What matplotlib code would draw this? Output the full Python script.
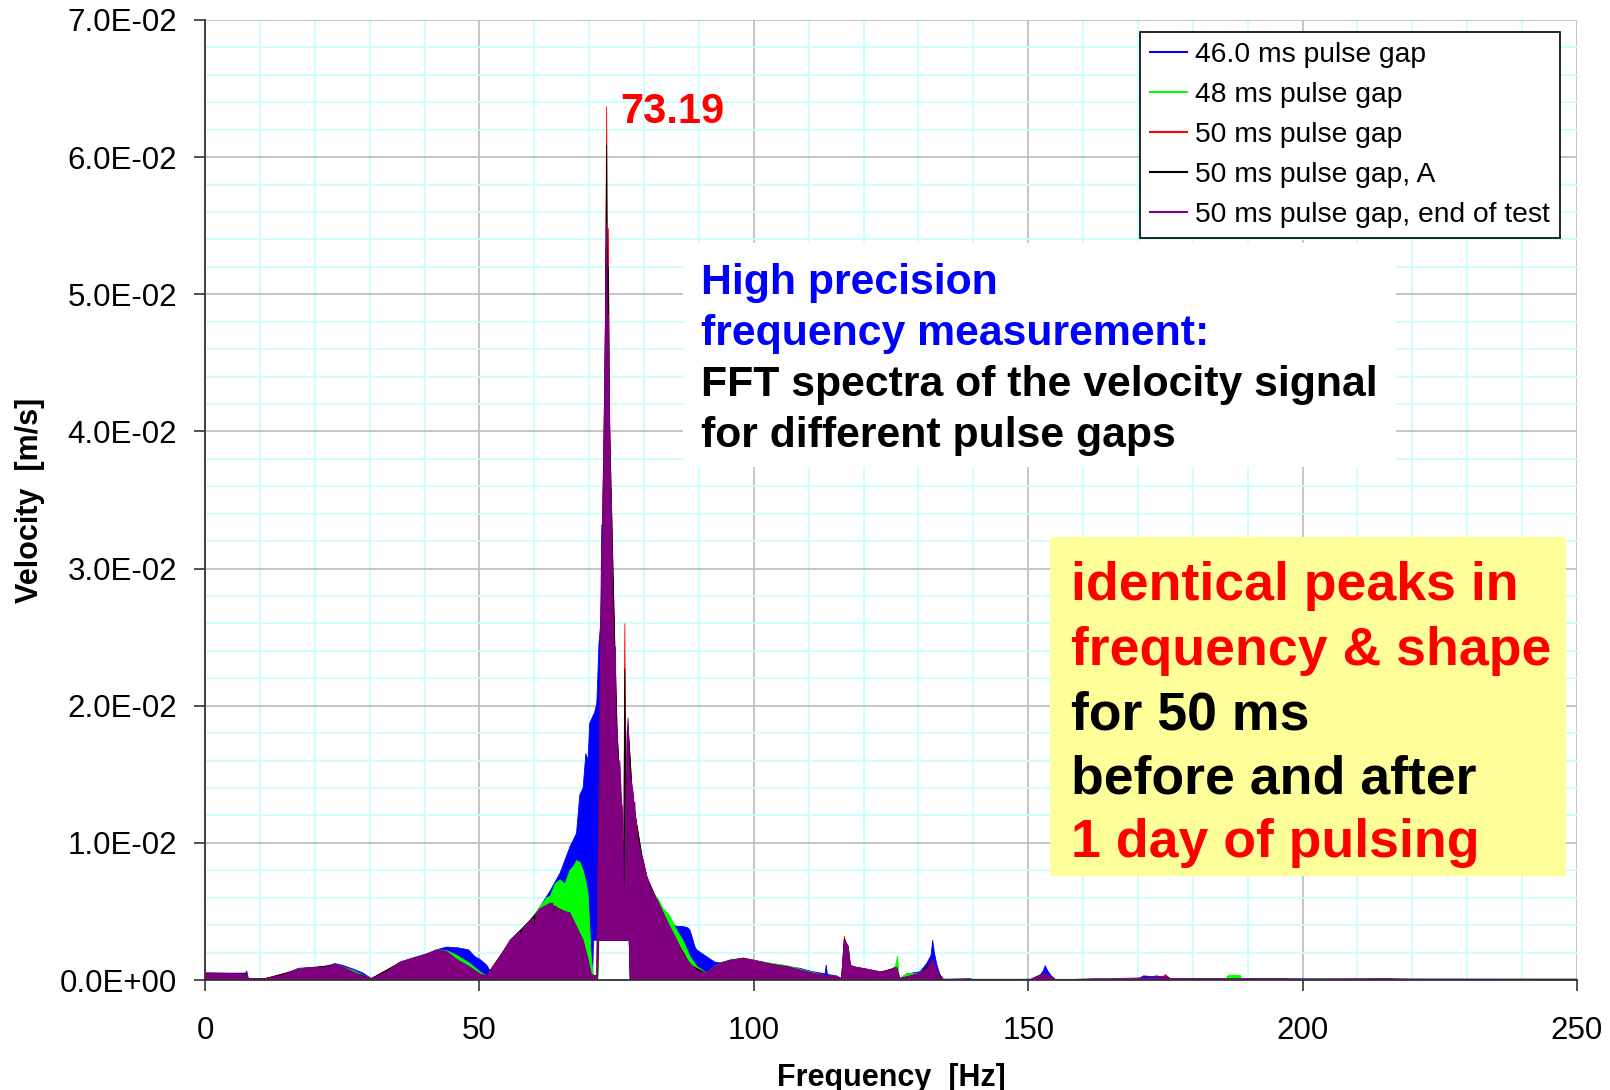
import numpy as np
import matplotlib.pyplot as plt
from matplotlib.lines import Line2D
from matplotlib.patches import Rectangle
from matplotlib.ticker import MultipleLocator, FuncFormatter

plt.rcParams['font.family'] = ['Liberation Sans', 'DejaVu Sans']

# FFT spectra of the velocity signal.
# Each trace: (frequency [Hz], upper edge of the trace [1e-3 m/s])
gap46 = [(0, 0.5), (7.4, 0.5), (7.6, 0.65), (7.9, 0.1), (11, 0.1), (14, 0.35), (17, 0.85),
         (22.2, 1.0), (23.7, 1.2), (25.2, 1.05), (27, 0.8), (28.8, 0.5), (30.3, 0.1), (33.1, 0.6),
         (35.5, 1.3), (37.9, 1.6), (40.4, 1.9), (42.2, 2.2), (44, 2.4), (46, 2.35), (48, 2.2),
         (49.2, 1.7), (50.1, 1.5), (51.3, 1.1), (52.2, 0.5), (53.8, 1.7), (55.6, 2.9), (57.4, 3.6),
         (59.2, 4.3), (61, 5.3), (62.9, 6.5), (64.7, 7.8), (66.5, 9.7), (67.7, 10.7), (68.3, 13.5),
         (68.9, 14.0), (69.4, 16.5), (69.8, 16.0), (70.1, 18.7), (70.4, 19.0), (71.0, 19.5),
         (71.4, 20.2), (71.8, 24.6), (72.1, 26), (72.3, 33.2), (72.5, 30), (73.0, 42), (73.5, 42),
         (74.1, 31), (74.7, 22), (75.1, 17), (76.0, 12), (76.3, 5), (76.7, 12), (77.1, 17),
         (77.8, 13.5), (78.4, 12), (79.0, 9.8), (79.6, 9.0), (80.5, 7.5), (81.7, 6.2), (82.6, 5.6),
         (83.5, 5.0), (84.7, 4.2), (85.5, 4.0), (86, 3.9), (87.1, 3.9), (88, 3.8), (88.4, 3.6),
         (89.3, 2.4), (89.6, 2.2), (91.4, 1.7), (92.9, 1.3), (93.8, 1.25), (95.7, 1.45), (98.1, 1.55),
         (99.9, 1.45), (101.7, 1.3), (103.6, 1.15), (106, 1.0), (108.4, 0.85), (110.8, 0.6),
         (113.0, 0.45), (113.2, 1.1), (113.4, 0.4), (115.1, 0.3), (116, 0.1), (116.5, 2.5),
         (117.2, 2.2), (117.6, 1.0), (120.6, 0.78), (123, 0.6), (124.8, 0.65), (126, 0.8),
         (126.6, 0.1), (127.9, 0.45), (130.3, 0.6), (131.5, 1.2), (132.3, 1.8), (132.6, 2.9),
         (132.9, 2.0), (133.3, 1.2), (133.9, 0.4), (134.5, 0.05), (150.5, 0.05), (152.3, 0.4),
         (152.8, 0.7), (153.1, 1.05), (153.5, 0.7), (154.2, 0.3), (155, 0.0), (170, 0.05),
         (171, 0.3), (172.5, 0.25), (173.5, 0.3), (175, 0.1), (250, 0.05)]

gap48 = [(0, 0.5), (7.5, 0.45), (7.9, 0.1), (11, 0.1), (14, 0.35), (17, 0.8), (22.2, 0.95),
         (23.7, 1.15), (25.2, 0.95), (27, 0.7), (28.8, 0.35), (30.3, 0.1), (33.1, 0.6), (35.5, 1.3),
         (37.9, 1.6), (40.4, 1.9), (42.2, 2.2), (44, 2.15), (45.9, 1.8), (48.3, 1.2), (50.1, 0.6),
         (51.3, 0.3), (53.8, 1.7), (55.6, 2.9), (57.4, 3.6), (59.2, 4.3), (61, 5.3), (62.3, 6.0),
         (62.9, 6.1), (63.8, 7.0), (64.7, 7.3), (65.6, 7.0), (66.5, 8.0), (67.2, 8.3), (67.7, 8.7),
         (68.3, 8.6), (68.9, 8.0), (69.4, 7.2), (69.8, 6.3), (70.1, 4.0), (70.4, 1.5), (70.8, 0.3),
         (71.6, 0.3), (71.8, 5), (72.1, 14), (72.5, 30), (73.0, 44), (73.5, 44), (74.1, 32),
         (74.7, 23), (75.1, 17), (76.0, 12), (76.3, 5), (76.7, 12), (77.1, 17), (77.8, 13.5),
         (78.4, 12), (79.0, 9.8), (79.6, 9.0), (80.5, 7.5), (81.7, 6.3), (82.6, 5.9), (83.5, 5.2),
         (84.7, 4.7), (86, 3.6), (87.1, 2.9), (88.4, 1.7), (89.6, 1.0), (91.4, 0.5), (92.9, 1.0),
         (93.8, 1.2), (95.7, 1.45), (98.1, 1.6), (99.9, 1.45), (101.7, 1.3), (103.6, 1.2),
         (106, 1.05), (108.4, 0.8), (110.8, 0.55), (113.3, 0.3), (115.1, 0.25), (116, 0.1),
         (116.5, 2.6), (117.2, 2.3), (117.6, 1.0), (120.6, 0.8), (123, 0.6), (124.8, 0.73),
         (125.8, 1.0), (126.2, 1.75), (126.5, 0.1), (127.9, 0.45), (130.3, 0.5), (132.6, 1.2),
         (133.9, 0.2), (134.5, 0.05), (186, 0.05), (186.5, 0.35), (188.6, 0.35), (189, 0.05),
         (250, 0.05)]

gap50 = [(0, 0.5), (7.5, 0.45), (7.9, 0.1), (11, 0.1), (17, 0.75), (23.7, 1.1), (27, 0.55),
         (30.3, 0.1), (35.5, 1.25), (42.2, 2.1), (45.9, 1.4), (50.1, 0.4), (51.3, 0.3), (55.6, 2.8),
         (61, 5.1), (62.9, 5.5), (66.5, 4.8), (68.9, 2.8), (69.8, 1.4), (70.4, 0.3), (71.4, 0.3),
         (71.6, 7), (71.8, 12), (72.1, 24), (72.4, 32), (72.7, 39), (72.95, 47), (73.19, 63.7),
         (73.35, 47), (73.5, 54.8), (73.7, 41), (74.1, 34.0), (74.7, 24), (75.1, 18), (75.9, 12.5),
         (76.3, 8), (76.5, 26.0), (76.7, 12), (77.1, 18.5), (77.8, 14), (78.4, 12), (79.6, 9.1),
         (80.5, 7.5), (82.6, 5.6), (84.7, 3.8), (86, 2.8), (88.4, 1.1), (91.4, 0.45), (95.7, 1.4),
         (98.1, 1.55), (101.7, 1.25), (106, 0.95), (110.8, 0.45), (115.1, 0.2), (116, 0.1),
         (116.5, 3.2), (116.7, 2.8), (117.2, 2.4), (117.6, 1.0), (120.6, 0.75), (123, 0.55),
         (126, 0.9), (126.6, 0.1), (130.3, 0.45), (132.6, 1.45), (133.3, 0.7), (134.5, 0.05),
         (140, 0.0), (151.5, 0.05), (153, 0.45), (154.5, 0.15), (155, 0.0), (174.5, 0.05),
         (175, 0.4), (176, 0.05), (250, 0.05)]

gap50_a = [(0, 0.5), (7.5, 0.45), (7.9, 0.1), (11, 0.1), (17, 0.75), (23.7, 1.1), (27, 0.55),
           (30.3, 0.1), (35.5, 1.25), (42.2, 2.1), (45.9, 1.4), (50.1, 0.4), (51.3, 0.3),
           (55.6, 2.8), (61, 5.1), (62.9, 5.5), (66.5, 4.8), (68.9, 2.8), (69.8, 1.4), (70.4, 0.3),
           (71.4, 0.3), (71.6, 7), (71.8, 12), (72.1, 24), (72.4, 32), (72.7, 39), (72.95, 47),
           (73.19, 60.9), (73.35, 47), (73.5, 52.0), (73.7, 41), (74.1, 34.0), (74.7, 24),
           (75.1, 18), (75.9, 12.5), (76.3, 8), (76.5, 22.7), (76.7, 11), (77.1, 18.5), (77.8, 14),
           (78.4, 12), (79.6, 9.1), (80.5, 7.5), (82.6, 5.6), (84.7, 3.8), (86, 2.8), (88.4, 1.1),
           (91.4, 0.45), (95.7, 1.4), (98.1, 1.55), (101.7, 1.25), (106, 0.95), (110.8, 0.45),
           (115.1, 0.2), (116, 0.1), (116.5, 3.0), (117.2, 2.4), (117.6, 1.0), (120.6, 0.75),
           (123, 0.55), (126, 0.9), (126.6, 0.1), (130.3, 0.45), (132.6, 1.4), (133.3, 0.7),
           (134.5, 0.05), (140, 0.0), (151.5, 0.05), (153, 0.4), (155, 0.0), (250, 0.05)]

gap50_end = [(0, 0.5), (3, 0.5), (6, 0.45), (7.5, 0.4), (7.9, 0.1), (11, 0.1), (14, 0.35),
             (17, 0.8), (20, 0.9), (22.2, 0.95), (23.7, 1.15), (25.2, 0.95), (27, 0.6), (28.8, 0.25),
             (30.3, 0.1), (31, 0.2), (33.1, 0.6), (35.5, 1.3), (37.9, 1.6), (40.4, 1.9), (42.2, 2.2),
             (44, 2.1), (45.9, 1.5), (48.3, 0.95), (50.1, 0.45), (51.3, 0.3), (52.2, 0.8),
             (53.8, 1.7), (55.6, 2.9), (57.4, 3.6), (57.6, 2.6), (57.8, 3.7), (59.2, 4.3),
             (59.8, 4.5), (60.0, 3.4), (60.2, 4.7), (61, 5.2), (62.9, 5.6), (63.4, 5.6), (63.6, 4.2),
             (63.8, 5.4), (64.7, 5.1), (66.5, 4.9), (67.7, 3.9), (68.9, 2.9), (69.8, 1.5),
             (70.4, 0.4), (71.4, 0.3), (71.6, 8), (71.8, 13), (72.1, 25), (72.4, 33), (72.7, 40),
             (72.95, 48), (73.19, 55.3), (73.35, 47), (73.5, 48.6), (73.7, 42), (73.9, 36),
             (74.1, 34.3), (74.3, 28), (74.5, 25), (74.6, 24.3), (74.7, 19), (74.8, 24.3),
             (74.9, 19), (75.1, 18.2), (75.4, 15), (75.6, 16), (75.9, 13), (76.1, 12.5), (76.3, 6),
             (76.5, 7), (76.7, 14), (76.9, 18), (77.1, 19.1), (77.3, 15.5), (77.5, 15), (77.8, 14.2),
             (78.1, 13.5), (78.2, 9.0), (78.3, 13.0), (78.4, 12.2), (79.0, 10.0), (79.5, 9.2),
             (79.6, 5.0), (79.7, 9.0), (80.5, 7.6), (81.0, 7.0), (81.1, 4.5), (81.2, 6.8),
             (81.7, 6.3), (82.6, 5.7), (83.5, 4.9), (84.7, 3.9), (86, 2.9), (87.1, 1.9), (88.4, 1.2),
             (89.6, 0.7), (91.4, 0.5), (92.9, 1.0), (93.8, 1.2), (95.7, 1.45), (98.1, 1.6),
             (99.9, 1.45), (101.7, 1.3), (103.6, 1.1), (106, 1.0), (108.4, 0.75), (110.8, 0.5),
             (113.3, 0.3), (115.1, 0.25), (116, 0.1), (116.5, 2.9), (117.2, 2.5), (117.6, 1.1),
             (118.4, 0.95), (120.6, 0.8), (123, 0.6), (124.8, 0.7), (126, 0.95), (126.6, 0.1),
             (127.9, 0.25), (130.3, 0.5), (131.5, 0.8), (132.6, 1.45), (133.3, 0.8), (133.9, 0.25),
             (134.5, 0.05), (139.5, 0.1), (140, 0.0), (150.5, 0.05), (151.5, 0.25), (153, 0.45),
             (154.5, 0.2), (155, 0.0), (162.5, 0.1), (165, 0.1), (170.5, 0.15), (173, 0.2),
             (175, 0.3), (176, 0.1), (182, 0.1), (196.5, 0.1), (200, 0.05), (215, 0.1),
             (220, 0.05), (250, 0.05)]

# lowest level the traces reach around the main resonance [1e-3 m/s]
floor_46 = [(0, 0), (70.6, 0), (70.8, 2.9), (77.3, 2.9), (77.5, 0), (250, 0)]
floor_48 = [(0, 0), (71.6, 0), (71.8, 2.9), (77.3, 2.9), (77.5, 0), (250, 0)]
floor_50 = [(0, 0), (71.5, 0), (71.7, 2.9), (77.3, 2.9), (77.5, 0), (250, 0)]

labels = ['46.0 ms pulse gap', '48 ms pulse gap', '50 ms pulse gap',
          '50 ms pulse gap, A', '50 ms pulse gap, end of test']
colors = ['#0000ff', '#00ff00', '#ff0000', '#000000', '#800080']
traces = [gap46, gap48, gap50, gap50_a, gap50_end]
floors = [floor_46, floor_48, floor_50, floor_50, floor_50]

peak_freq = 73.19
peak_vel = 63.7

fig = plt.figure(figsize=(16.1, 10.9), dpi=100)
ax = fig.add_axes([205 / 1610, 110 / 1090, 1372 / 1610, 960 / 1090])

for upper, floor, col in zip(traces, floors, colors):
    fu, vu = np.array(upper, dtype=float).T
    fl, vl = np.array(floor, dtype=float).T
    xs = np.concatenate([fu, fl[::-1]])
    ys = np.concatenate([vu, vl[::-1]]) * 1e-3
    ax.fill(xs, ys, facecolor=col, edgecolor=col, lw=0.6, zorder=2)

ax.set_xlim(0, 250)
ax.set_ylim(0, 0.07)
ax.xaxis.set_major_locator(MultipleLocator(50))
ax.xaxis.set_minor_locator(MultipleLocator(10))
ax.yaxis.set_major_locator(MultipleLocator(0.01))
ax.yaxis.set_minor_locator(MultipleLocator(0.002))
ax.yaxis.set_major_formatter(FuncFormatter(lambda v, p: f'{v:.1E}'))
ax.set_axisbelow(True)
ax.grid(which='minor', color='#c8ffff', lw=1.3)
ax.grid(which='major', color='#c0c0c0', lw=1.3)
ax.tick_params(which='major', direction='out', length=8, width=1.2, labelsize=22.5, color='#333333')
ax.tick_params(axis='y', pad=12)
ax.tick_params(axis='x', pad=18)
ax.tick_params(which='minor', length=0)
for s in ['top', 'right']:
    ax.spines[s].set_visible(False)
for s in ['left', 'bottom']:
    ax.spines[s].set_color('#333333')
    ax.spines[s].set_linewidth(1.3)

ax.set_xlabel('Frequency  [Hz]', fontsize=22, fontweight='bold', labelpad=12)
ax.set_ylabel('Velocity  [m/s]', fontsize=22, fontweight='bold', labelpad=11)

handles = [Line2D([], [], color=c, lw=1.5) for c in colors]
leg = ax.legend(handles, labels, loc='upper right', bbox_to_anchor=(0.9876, 0.9875),
                borderaxespad=0, fontsize=20.3, handlelength=1.3, handletextpad=0.3,
                borderpad=0.35, labelspacing=0.5, fancybox=False, framealpha=1)
leg.get_frame().set_edgecolor('black')
leg.get_frame().set_linewidth(1.2)
leg.set_zorder(6)

ax.text(peak_freq + 2.4, (peak_vel - 0.4) * 1e-3, f'{peak_freq:.2f}', color='#ff0000',
        fontsize=30, fontweight='bold', ha='left', va='center', zorder=6)


def axpos(px, py):
    return (px - 205) / 1372, (980 - py) / 960


# white note box
x0, y0 = axpos(683, 467)
ax.add_patch(Rectangle((x0, y0), 713 / 1372, 224 / 960, transform=ax.transAxes,
                       facecolor='white', edgecolor='none', zorder=5))
note = [('High precision', '#0000ff', 283), ('frequency measurement:', '#0000ff', 334),
        ('FFT spectra of the velocity signal', 'black', 385),
        ('for different pulse gaps', 'black', 436)]
for txt, col, py in note:
    ax.text(*axpos(701, py), txt, transform=ax.transAxes, color=col, fontsize=30.8,
            fontweight='bold', ha='left', va='center', zorder=6)

# yellow statement box
x0, y0 = axpos(1050, 876)
ax.add_patch(Rectangle((x0, y0), 516 / 1372, 339 / 960, transform=ax.transAxes,
                       facecolor='#ffff99', edgecolor='none', zorder=5))
statement = [('identical peaks in', '#ff0000', 586), ('frequency & shape', '#ff0000', 651),
             ('for 50 ms', 'black', 715), ('before and after', 'black', 779),
             ('1 day of pulsing', '#ff0000', 843)]
for txt, col, py in statement:
    ax.text(*axpos(1071, py), txt, transform=ax.transAxes, color=col, fontsize=38.6,
            fontweight='bold', ha='left', va='center', zorder=6)

fig.savefig('out.png', dpi=100)
